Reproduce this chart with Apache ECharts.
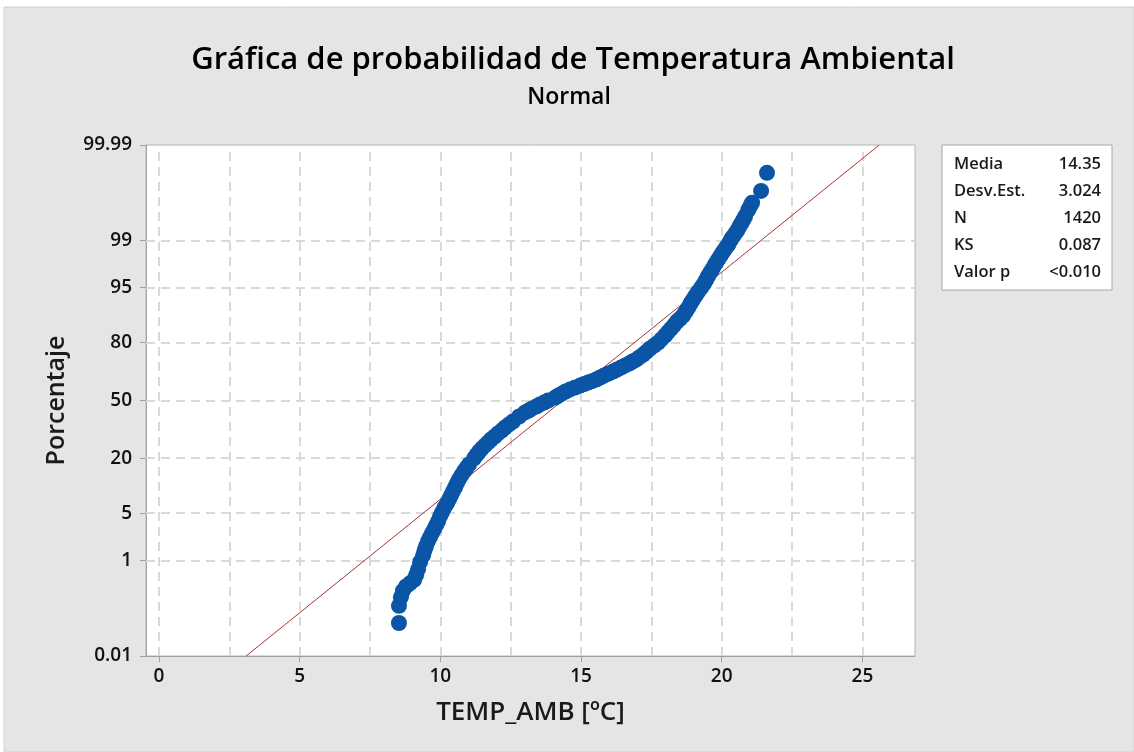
<!DOCTYPE html>
<html>
<head>
<meta charset="utf-8">
<script src="https://cdn.jsdelivr.net/npm/echarts@6/dist/echarts.min.js"></script>
<style>
    html, body { margin: 0; padding: 0; background: #fff; }
    #main { width: 1134px; height: 752px; }
</style>
</head>
<body>
<div id="main"></div>
<script>
    // puntos: temperatura (ºC) y porcentaje acumulado
    var tempData = [8.53, 8.53, 8.60, 8.67, 8.78, 8.92, 9.07, 9.14, 9.21, 9.28,
        9.39, 9.44, 9.49, 9.56, 9.63, 9.70, 9.78, 9.85, 9.92, 9.99,
        10.06, 10.15, 10.24, 10.31, 10.38, 10.45, 10.52, 10.59, 10.66, 10.75,
        10.84, 10.93, 11.02, 11.20, 11.29, 11.38, 11.48, 11.59, 11.70, 11.80,
        11.93, 12.05, 12.18, 12.30, 12.44, 12.58, 12.80, 13.01, 13.14, 13.26,
        13.41, 13.54, 13.69, 13.83, 14.08, 14.20, 14.33, 14.45, 14.61, 14.79,
        14.97, 15.11, 15.25, 15.39, 15.54, 15.68, 15.82, 15.98, 16.14, 16.28,
        16.42, 16.57, 16.71, 16.83, 16.96, 17.08, 17.21, 17.33, 17.45, 17.60,
        17.74, 17.86, 17.99, 18.09, 18.20, 18.31, 18.41, 18.52, 18.63, 18.72,
        18.81, 18.89, 18.98, 19.07, 19.16, 19.27, 19.37, 19.45, 19.52, 19.61,
        19.69, 19.78, 19.87, 19.96, 20.05, 20.14, 20.23, 20.30, 20.37, 20.46,
        20.55, 20.62, 20.69, 20.76, 20.83, 20.94, 21.01, 21.08, 21.40, 21.61];
    var pctData = [0.06, 0.14, 0.21, 0.28, 0.34, 0.39, 0.45, 0.55, 0.70, 0.93,
        1.21, 1.46, 1.69, 2.02, 2.32, 2.66, 3.04, 3.46, 3.93, 4.59,
        5.18, 6.00, 6.72, 7.51, 8.37, 9.30, 10.3, 11.39, 12.55, 13.79,
        15.1, 16.33, 17.6, 20.0, 21.4, 22.9, 24.3, 25.7, 27.1, 28.5,
        30.0, 31.6, 33.1, 34.7, 36.4, 38.0, 40.8, 43.1, 44.2, 45.4,
        46.5, 47.7, 48.8, 50.0, 51.7, 52.9, 54.1, 55.2, 56.4, 57.5,
        58.6, 59.5, 60.3, 61.1, 62.0, 63.1, 64.2, 65.3, 66.3, 67.4,
        68.4, 69.5, 70.5, 71.5, 72.4, 73.6, 74.8, 76.2, 77.5, 78.8,
        80.0, 81.4, 82.8, 84.0, 85.2, 86.4, 87.5, 88.3, 89.2, 90.2,
        91.2, 92.1, 92.9, 93.65, 94.3, 94.97, 95.55, 96.07, 96.5, 96.96,
        97.3, 97.68, 97.98, 98.25, 98.48, 98.67, 98.83, 98.98, 99.11, 99.22,
        99.33, 99.42, 99.50, 99.565, 99.63, 99.72, 99.765, 99.80, 99.886, 99.954];

    // recta de ajuste normal (media 14.35, desv. 3.024)
    var fitTemp = [3.10, 25.60];
    var fitPct = [0.01, 99.99];

    var yTickPct = [0.01, 1, 5, 20, 50, 80, 95, 99, 99.99];
    var yGridPct = [1, 5, 20, 50, 80, 95, 99];
    var xTicks = [0, 5, 10, 15, 20, 25];
    var xGrid = [0, 2.5, 5, 7.5, 10, 12.5, 15, 17.5, 20, 22.5, 25];

    var statLabels = ['Media', 'Desv.Est.', 'N', 'KS', 'Valor p'];
    var statValues = ['14.35', '3.024', '1420', '0.087', '<0.010'];

    // inversa de la normal (Acklam) para la escala de probabilidad
    function probit(p) {
        var a = [-3.969683028665376e+01, 2.209460984245205e+02, -2.759285104469687e+02, 1.383577518672690e+02, -3.066479806614716e+01, 2.506628277459239e+00];
        var b = [-5.447609879822406e+01, 1.615858368580409e+02, -1.556989798598866e+02, 6.680131188771972e+01, -1.328068155288572e+01];
        var c = [-7.784894002430293e-03, -3.223964580411365e-01, -2.400758277161838e+00, -2.549671669539290e+00, 4.374664141464968e+00, 2.938163982698783e+00];
        var d = [7.784695709041462e-03, 3.224671290700398e-01, 2.445134137142996e+00, 3.754408661907416e+00];
        var pl = 0.02425, q, r;
        if (p < pl) {
            q = Math.sqrt(-2 * Math.log(p));
            return (((((c[0] * q + c[1]) * q + c[2]) * q + c[3]) * q + c[4]) * q + c[5]) / ((((d[0] * q + d[1]) * q + d[2]) * q + d[3]) * q + 1);
        }
        if (p > 1 - pl) {
            q = Math.sqrt(-2 * Math.log(1 - p));
            return -(((((c[0] * q + c[1]) * q + c[2]) * q + c[3]) * q + c[4]) * q + c[5]) / ((((d[0] * q + d[1]) * q + d[2]) * q + d[3]) * q + 1);
        }
        q = p - 0.5;
        r = q * q;
        return (((((a[0] * r + a[1]) * r + a[2]) * r + a[3]) * r + a[4]) * r + a[5]) * q / (((((b[0] * r + b[1]) * r + b[2]) * r + b[3]) * r + b[4]) * r + 1);
    }
    function z(pct) { return probit(pct / 100); }

    var yTickZ = yTickPct.map(z);
    var font = '"Open Sans", "Noto Sans", sans-serif';

    var points = tempData.map(function (t, i) { return [t, z(pctData[i])]; });
    var fitLine = fitTemp.map(function (t, i) { return [t, z(fitPct[i])]; });

    var gridLines = xGrid.map(function (v) { return {xAxis: v}; })
        .concat(yGridPct.map(function (p) { return {yAxis: z(p)}; }));

    var statsGraphic = [{
        type: 'rect',
        shape: {x: 942, y: 145, width: 170, height: 145},
        style: {fill: '#fff', stroke: '#a8a8a8', lineWidth: 1}
    }];
    statLabels.forEach(function (s, i) {
        var y = 164 + i * 27;
        statsGraphic.push({
            type: 'text', x: 954, y: y,
            style: {text: s, font: '600 16.5px ' + font, fill: '#1a1a1a', verticalAlign: 'middle', align: 'left'}
        });
        statsGraphic.push({
            type: 'text', x: 1101, y: y,
            style: {text: statValues[i], font: '600 16.5px ' + font, fill: '#1a1a1a', verticalAlign: 'middle', align: 'right'}
        });
    });

    var option = {
        backgroundColor: '#fff',
        animation: false,
        graphic: [
            {
                type: 'rect', z: -10,
                shape: {x: 4, y: 7, width: 1130, height: 745},
                style: {fill: '#e5e5e5', stroke: '#d0d0d0', lineWidth: 1}
            },
            {
                type: 'text', x: 573, y: 60,
                style: {
                    text: 'Gráfica de probabilidad de Temperatura Ambiental',
                    font: '600 31px ' + font, fill: '#000', align: 'center', verticalAlign: 'middle'
                }
            },
            {
                type: 'text', x: 569, y: 97,
                style: {text: 'Normal', font: '600 23px ' + font, fill: '#000', align: 'center', verticalAlign: 'middle'}
            }
        ].concat(statsGraphic),
        grid: {
            left: 146, top: 145, width: 769, height: 511,
            show: true, backgroundColor: '#fff', borderColor: '#b4b4b4', borderWidth: 1
        },
        xAxis: {
            type: 'value',
            min: -0.46,
            max: 26.87,
            name: 'TEMP_AMB [ºC]',
            nameLocation: 'middle',
            nameGap: 44,
            nameTextStyle: {fontFamily: font, fontSize: 26, fontWeight: 600, color: '#1a1a1a'},
            axisLine: {show: true, onZero: false, lineStyle: {color: '#a0a0a0', width: 1}},
            axisTick: {show: true, length: 6, customValues: xTicks, lineStyle: {color: '#a0a0a0'}},
            axisLabel: {
                customValues: xTicks, margin: 11,
                fontFamily: font, fontSize: 19, fontWeight: 600, color: '#111'
            },
            splitLine: {show: false}
        },
        yAxis: {
            type: 'value',
            min: yTickZ[0],
            max: yTickZ[yTickZ.length - 1],
            name: 'Porcentaje',
            nameLocation: 'middle',
            nameGap: 77,
            nameTextStyle: {fontFamily: font, fontSize: 25, fontWeight: 600, color: '#1a1a1a'},
            axisLine: {show: true, onZero: false, lineStyle: {color: '#a0a0a0', width: 1}},
            axisTick: {show: true, length: 6, customValues: yTickZ, lineStyle: {color: '#a0a0a0'}},
            axisLabel: {
                customValues: yTickZ, margin: 14,
                showMinLabel: true, showMaxLabel: true,
                fontFamily: font, fontSize: 19, fontWeight: 600, color: '#111',
                formatter: function (v) {
                    for (var i = 0; i < yTickZ.length; i++) {
                        if (Math.abs(yTickZ[i] - v) < 1e-4) return String(yTickPct[i]);
                    }
                    return '';
                }
            },
            splitLine: {show: false}
        },
        series: [
            {
                name: 'grid',
                type: 'line',
                data: [],
                silent: true,
                z: 1,
                markLine: {
                    silent: true,
                    z: 1,
                    symbol: 'none',
                    animation: false,
                    label: {show: false},
                    lineStyle: {color: '#d9d9d9', type: [9, 6], width: 2},
                    data: gridLines
                }
            },
            {
                name: 'Ajuste',
                type: 'line',
                data: fitLine,
                showSymbol: false,
                lineStyle: {color: '#a83232', width: 1},
                z: 2
            },
            {
                name: 'TEMP_AMB',
                type: 'scatter',
                data: points,
                symbolSize: 16,
                itemStyle: {color: '#0a55a6', opacity: 1},
                z: 3
            }
        ]
    };

    var myChart = echarts.init(document.getElementById('main'));
    myChart.setOption(option);
</script>
</body>
</html>
